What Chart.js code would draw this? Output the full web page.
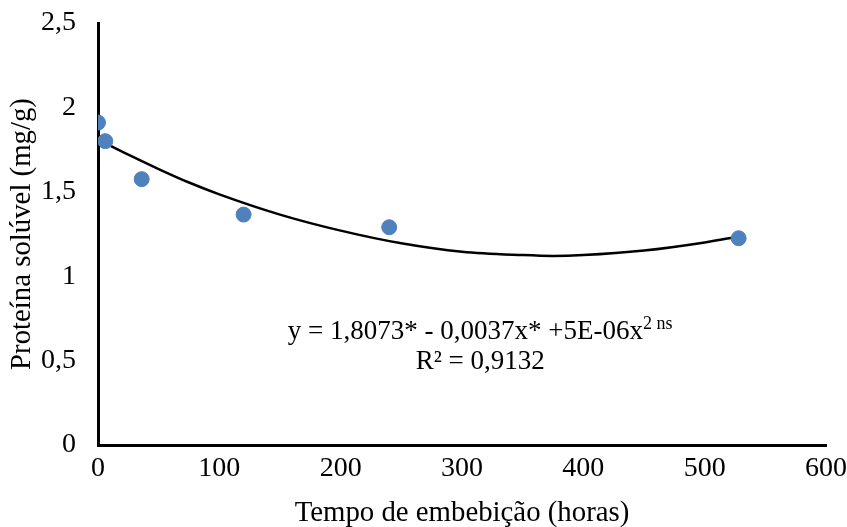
<!DOCTYPE html>
<html>
<head>
<meta charset="utf-8">
<script src="https://cdn.jsdelivr.net/npm/chart.js@4.4.0/dist/chart.umd.min.js"></script>
<style>
  html, body { margin: 0; padding: 0; background: #fff; }
  #wrap { width: 847px; height: 527px; }
</style>
</head>
<body>
<div id="wrap"><canvas id="chart"></canvas></div>
<script>
// observed values
var tempoHoras = [0, 6, 36, 120, 240, 528];
var proteina = [1.91, 1.80, 1.575, 1.365, 1.29, 1.225];

// polynomial trend line
var trendX = [0, 25, 50, 75, 100, 150, 200, 250, 300, 350, 375, 400, 450, 500, 528];
var trendY = [1.81, 1.72, 1.635, 1.555, 1.485, 1.365, 1.27, 1.195, 1.145, 1.125, 1.12, 1.125, 1.152, 1.2, 1.235];

var yTicks = [0, 0.5, 1, 1.5, 2, 2.5];
var xTicks = [0, 100, 200, 300, 400, 500, 600];

var eqText = 'y = 1,8073* - 0,0037x* +5E-06x';
var r2Text = 'R² = 0,9132';

var serif = '"Liberation Serif", "Times New Roman", serif';

function pts(xs, ys) {
  return xs.map(function (x, i) { return { x: x, y: ys[i] }; });
}

var equationPlugin = {
  id: 'equation',
  afterDatasetsDraw: function (chart) {
    var ctx = chart.ctx;
    var xs = chart.scales.x, ys = chart.scales.y;
    var cx = xs.getPixelForValue(315);
    var y1 = ys.getPixelForValue(0.669);
    var y2 = ys.getPixelForValue(0.49);
    ctx.save();
    ctx.fillStyle = '#000';
    ctx.textBaseline = 'middle';
    ctx.font = '27px ' + serif;
    var w1 = ctx.measureText(eqText).width;
    ctx.font = '18px ' + serif;
    var wSup = ctx.measureText('2').width;
    var wNs = ctx.measureText(' ns').width;
    var total = w1 + wSup + wNs;
    var left = cx - total / 2;
    ctx.textAlign = 'left';
    ctx.font = '27px ' + serif;
    ctx.fillText(eqText, left, y1);
    ctx.font = '18px ' + serif;
    ctx.fillText('2', left + w1, y1 - 8);
    ctx.fillText(' ns', left + w1 + wSup, y1 - 8);
    ctx.font = '27px ' + serif;
    ctx.textAlign = 'center';
    ctx.fillText(r2Text, cx, y2);
    ctx.restore();
  }
};

new Chart(document.getElementById('chart'), {
  type: 'scatter',
  data: {
    datasets: [
      {
        label: 'Observado',
        data: pts(tempoHoras, proteina),
        backgroundColor: '#4F81BD',
        borderColor: '#4F81BD',
        pointRadius: 7.5,
        pointHoverRadius: 7.5,
        order: 1
      },
      {
        label: 'Polinomial',
        type: 'line',
        data: pts(trendX, trendY),
        borderColor: '#000',
        borderWidth: 2.5,
        pointRadius: 0,
        fill: false,
        cubicInterpolationMode: 'monotone',
        order: 2
      }
    ]
  },
  options: {
    responsive: true,
    maintainAspectRatio: false,
    animation: false,
    layout: { padding: { top: 23, right: 21, left: 0, bottom: 0 } },
    plugins: {
      legend: { display: false },
      tooltip: { enabled: false }
    },
    scales: {
      x: {
        type: 'linear',
        min: 0,
        max: 600,
        afterBuildTicks: function (s) { s.ticks = xTicks.map(function (v) { return { value: v }; }); },
        afterFit: function (s) {
          s.height = 82;
          s.paddingLeft = 0;
          s.paddingRight = 0;
        },
        grid: { display: false, drawTicks: false },
        border: { display: true, color: '#000', width: 3 },
        ticks: {
          padding: 7,
          color: '#000',
          font: { family: serif, size: 28 },
          maxRotation: 0
        },
        title: {
          display: true,
          text: 'Tempo de embebição (horas)',
          color: '#000',
          font: { family: serif, size: 28.8 },
          padding: { top: 0, bottom: -4 }
        }
      },
      y: {
        min: 0,
        max: 2.5,
        afterBuildTicks: function (s) { s.ticks = yTicks.map(function (v) { return { value: v }; }); },
        afterFit: function (s) {
          s.width = 98;
          s.paddingTop = 0;
          s.paddingBottom = 0;
        },
        grid: { display: false, drawTicks: false },
        border: { display: true, color: '#000', width: 3 },
        ticks: {
          padding: 22,
          color: '#000',
          font: { family: serif, size: 28 },
          callback: function (v) { return String(v).replace('.', ','); }
        },
        title: {
          display: true,
          text: 'Proteína solúvel (mg/g)',
          color: '#000',
          font: { family: serif, size: 28.8 },
          padding: { top: 5, bottom: 0 }
        }
      }
    }
  },
  plugins: [equationPlugin]
});
</script>
</body>
</html>
